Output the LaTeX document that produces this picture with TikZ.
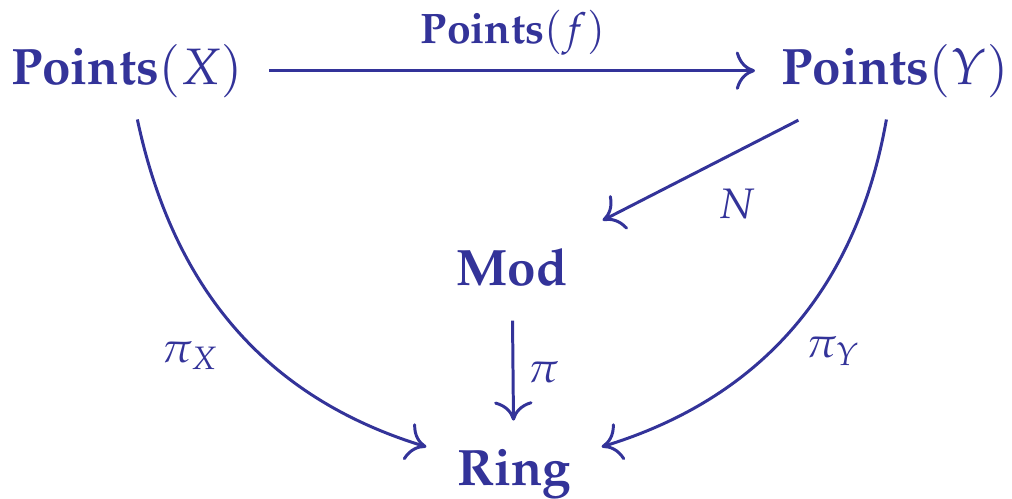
\documentclass[tikz,border=0pt]{standalone}
\usepackage{amsmath}
\usepackage[T1]{fontenc}
\usepackage{mathpazo}
\usepackage{tikz}
\usetikzlibrary{arrows.meta}

\definecolor{diagblue}{RGB}{51,51,153}

\begin{document}
\begin{tikzpicture}[
x=0.2344pt,y=-0.2344pt,
every node/.style={text=diagblue,inner sep=4pt},
obj/.style={font=\fontsize{12}{14}\selectfont,anchor=base,inner xsep=7pt},
lab/.style={font=\fontsize{10}{12}\selectfont,anchor=base,inner sep=0pt},
arr/.style={draw=diagblue,line width=0.7pt,-{Computer Modern Rightarrow[length=4.5pt,width=9pt]}},]
\useasboundingbox (0,0) rectangle (1012,498);
\node[obj] (PX)   at (127,84)  {\textbf{Points}$(X)$};
\node[obj] (PY)   at (895,84)  {\textbf{Points}$(Y)$};
\node[obj] (Mod)  at (512,285) {\textbf{Mod}};
\node[obj] (Ring) at (514,485) {\textbf{Ring}};

\node[lab] (Lf)  at (513,43)  {\textbf{Points}$(f)$};
\node[lab] (LN)  at (737,218) {$N$};
\node[lab] (Lpi) at (543,382) {$\pi$};
\node[lab] (LpX) at (190,362) {$\pi_X$};
\node[lab] (LpY) at (833,357) {$\pi_Y$};

\draw[arr,shorten <=-1pt,shorten >=-1pt] (PX) -- (PY);
\draw[arr,shorten <=2.5pt,shorten >=5pt] (PY) -- (Mod);
\draw[arr,shorten <=4pt,shorten >=2.5pt] (Mod) -- (Ring);
\draw[arr,shorten <=1pt] (PX) to[out=-78,in=163] (Ring);
\draw[arr,shorten <=1pt] (PY) to[out=-100,in=17] (Ring);
\end{tikzpicture}
\end{document}
